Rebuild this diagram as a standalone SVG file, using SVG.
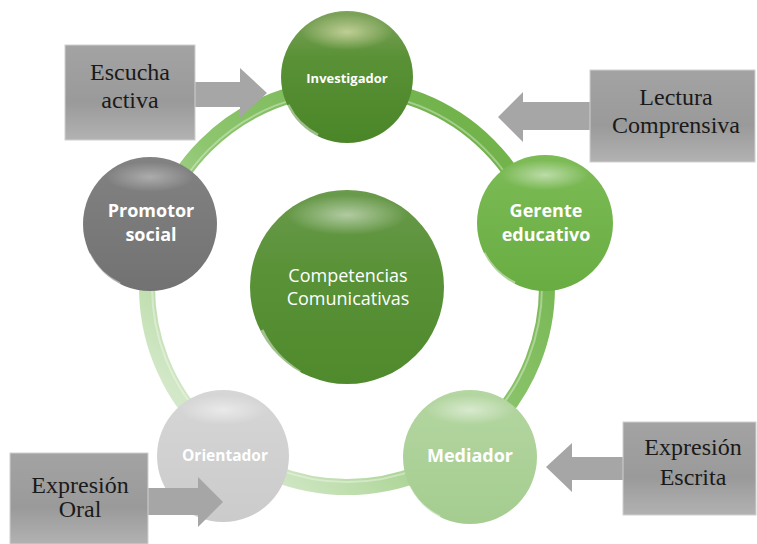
<svg xmlns="http://www.w3.org/2000/svg" width="757" height="544" viewBox="0 0 757 544">
<defs>
  <linearGradient id="ringG" x1="0.85" y1="0.15" x2="0.15" y2="0.85">
    <stop offset="0" stop-color="#72b34c"/>
    <stop offset="0.5" stop-color="#8ec66f"/>
    <stop offset="1" stop-color="#d3e8c8"/>
  </linearGradient>
  <linearGradient id="boxG" x1="0" y1="0" x2="0" y2="1">
    <stop offset="0" stop-color="#a3a3a3"/>
    <stop offset="0.6" stop-color="#9a9a9a"/>
    <stop offset="1" stop-color="#b2b2b2"/>
  </linearGradient>
  <radialGradient id="hl" cx="0.5" cy="0.5" r="0.5">
    <stop offset="0" stop-color="#ffffff" stop-opacity="0.5"/>
    <stop offset="1" stop-color="#ffffff" stop-opacity="0"/>
  </radialGradient>
  <radialGradient id="hlc" cx="0.5" cy="0.5" r="0.5">
    <stop offset="0" stop-color="#f6f0c8" stop-opacity="0.6"/>
    <stop offset="1" stop-color="#f6f0c8" stop-opacity="0"/>
  </radialGradient>
  <linearGradient id="gInv" x1="0" y1="0" x2="0" y2="1">
    <stop offset="0" stop-color="#7ea35c"/>
    <stop offset="0.35" stop-color="#5a9136"/>
    <stop offset="1" stop-color="#4a8628"/>
  </linearGradient>
  <linearGradient id="gCen" x1="0" y1="0" x2="0" y2="1">
    <stop offset="0" stop-color="#6a9a4c"/>
    <stop offset="0.4" stop-color="#5a9238"/>
    <stop offset="1" stop-color="#4f8a2c"/>
  </linearGradient>
  <linearGradient id="gGer" x1="0" y1="0" x2="0" y2="1">
    <stop offset="0" stop-color="#7dbb56"/>
    <stop offset="1" stop-color="#68ad42"/>
  </linearGradient>
  <linearGradient id="gMed" x1="0" y1="0" x2="0" y2="1">
    <stop offset="0" stop-color="#b4d6a1"/>
    <stop offset="1" stop-color="#a5cd90"/>
  </linearGradient>
  <linearGradient id="gPro" x1="0" y1="0" x2="0" y2="1">
    <stop offset="0" stop-color="#828282"/>
    <stop offset="1" stop-color="#727272"/>
  </linearGradient>
  <linearGradient id="gOri" x1="0" y1="0" x2="0" y2="1">
    <stop offset="0" stop-color="#d6d6d6"/>
    <stop offset="1" stop-color="#cbcbcb"/>
  </linearGradient>
</defs>
<style>
  .rim{fill:none;stroke:#ffffff;stroke-opacity:0.45;stroke-width:3}
  .lbl{font-family:"Open Sans","DejaVu Sans",sans-serif;font-weight:bold;fill:#ffffff;text-anchor:middle}
  .box{fill:url(#boxG);stroke:#d0d0d0;stroke-width:1}
  .arr{fill:#a6a6a6}
  .bt{font-family:"Liberation Serif","Times New Roman",serif;font-size:24px;fill:#1a1a1a;text-anchor:middle}
</style>
<rect width="757" height="544" fill="#ffffff"/>

<g id="connectors">
  <circle cx="347" cy="287" r="200" fill="none" stroke="url(#ringG)" stroke-width="16"/>
  <circle cx="347" cy="287" r="195" fill="none" stroke="#ffffff" stroke-opacity="0.35" stroke-width="2"/>
</g>

<g id="center">
  <circle cx="347" cy="287" r="97" fill="url(#gCen)"/>
  <ellipse cx="347" cy="215" rx="60" ry="20" fill="url(#hl)"/>
  <path d="M262 330 A95 95 0 0 0 300 372" class="rim"/>
  <text font-family="'Open Sans','DejaVu Sans',sans-serif" font-size="18" fill="#ffffff" text-anchor="middle"><tspan x="348" y="282">Competencias</tspan><tspan x="348" y="305">Comunicativas</tspan></text>
</g>

<g id="investigador">
  <circle cx="347" cy="77" r="66" fill="url(#gInv)"/>
  <ellipse cx="347" cy="32" rx="46" ry="18" fill="url(#hlc)"/>
  <path d="M288 105 A64 64 0 0 0 318 135" class="rim"/>
  <text class="lbl" x="347" y="83" font-size="13">Investigador</text>
</g>

<g id="gerente">
  <circle cx="545" cy="223" r="68" fill="url(#gGer)"/>
  <ellipse cx="545" cy="175" rx="44" ry="15" fill="url(#hl)"/>
  <path d="M484 253 A66 66 0 0 0 515 283" class="rim"/>
  <text class="lbl" font-size="18"><tspan x="546" y="217">Gerente</tspan><tspan x="546" y="241">educativo</tspan></text>
</g>

<g id="mediador">
  <circle cx="470" cy="457" r="67" fill="url(#gMed)"/>
  <ellipse cx="470" cy="410" rx="44" ry="15" fill="url(#hl)"/>
  <path d="M409 487 A65 65 0 0 0 440 517" class="rim"/>
  <text class="lbl" x="470" y="462" font-size="18">Mediador</text>
</g>

<g id="orientador">
  <circle cx="223" cy="456" r="66" fill="url(#gOri)"/>
  <ellipse cx="223" cy="410" rx="44" ry="15" fill="url(#hl)"/>
  <path d="M162 486 A64 64 0 0 0 193 516" class="rim"/>
  <text class="lbl" x="225" y="461" font-size="15.5">Orientador</text>
</g>

<g id="promotor">
  <circle cx="150" cy="224" r="67" fill="url(#gPro)"/>
  <ellipse cx="150" cy="177" rx="44" ry="15" fill="url(#hl)" opacity="0.7"/>
  <path d="M89 254 A65 65 0 0 0 120 284" class="rim"/>
  <text class="lbl" font-size="18"><tspan x="151" y="217">Promotor</tspan><tspan x="151" y="241">social</tspan></text>
</g>

<g id="escucha">
  <polygon class="arr" points="195,82 240,82 240,68 267,93 240,118 240,107 195,107"/>
  <rect class="box" x="65" y="45" width="130" height="95"/>
  <text class="bt"><tspan x="130" y="80">Escucha</tspan><tspan x="130" y="108">activa</tspan></text>
</g>

<g id="lectura">
  <polygon class="arr" points="590,102 523,102 523,92 498,117 523,142 523,130 590,130"/>
  <rect class="box" x="590" y="70" width="165" height="92"/>
  <text class="bt"><tspan x="676" y="105">Lectura</tspan><tspan x="676" y="133">Comprensiva</tspan></text>
</g>

<g id="oral">
  <polygon class="arr" points="148,488 198,488 198,477 223,502 198,527 198,515 148,515"/>
  <rect class="box" x="10" y="453" width="138" height="91"/>
  <text class="bt"><tspan x="80" y="493">Expresión</tspan><tspan x="80" y="517">Oral</tspan></text>
</g>

<g id="escrita">
  <polygon class="arr" points="623,457 572,457 572,443 546,467 572,492 572,480 623,480"/>
  <rect class="box" x="623" y="422" width="133" height="93"/>
  <text class="bt"><tspan x="693" y="455">Expresión</tspan><tspan x="693" y="485">Escrita</tspan></text>
</g>
</svg>
